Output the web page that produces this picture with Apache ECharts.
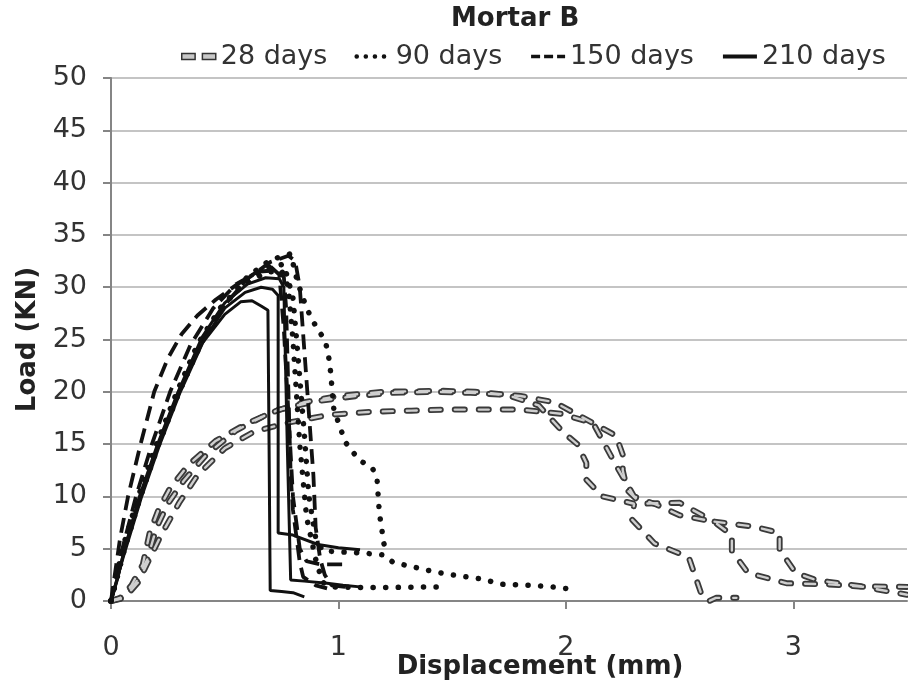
<!DOCTYPE html>
<html>
<head>
<meta charset="utf-8">
<script src="https://cdn.jsdelivr.net/npm/echarts@6/dist/echarts.min.js"></script>
<style>
html,body{margin:0;padding:0;background:#fff;}
#chart{width:908px;height:687px;}
</style>
</head>
<body>
<div id="chart"></div>
<script>
// ---- Data (Displacement mm, Load kN) ----
const titleText = 'Mortar B';
const legendNames = ['28 days', '90 days', '150 days', '210 days'];
const xTicks = [0, 1, 2, 3];
const yTicks = [0, 5, 10, 15, 20, 25, 30, 35, 40, 45, 50];

const d28a = [[0,0],[0.04,0.3],[0.09,1.5],[0.14,3.5],[0.17,6.5],[0.21,8.8],[0.26,10.8],[0.34,13],[0.46,15.3],[0.6,17.0],[0.74,18.3],[0.9,19.1],[1.08,19.6],[1.24,19.9],[1.42,20.0],[1.58,19.9],[1.74,19.7],[1.88,18.7],[1.99,16.1],[2.05,15],[2.09,13.2],[2.09,11.6],[2.16,10.0],[2.3,9.3],[2.29,7.8],[2.39,5.5],[2.54,4.2],[2.6,0.4],[2.63,0],[2.66,0.3],[2.75,0.3]];
const d28b = [[0,0],[0.05,0.3],[0.11,1.8],[0.16,4],[0.2,7],[0.25,9.3],[0.32,11.5],[0.42,14],[0.55,16.3],[0.7,18],[0.85,19],[1.0,19.6],[1.2,20],[1.45,20.1],[1.6,20.0],[1.8,19.6],[1.95,19.0],[2.12,17.0],[2.22,15.8],[2.25,14.0],[2.25,12.5],[2.27,10.6],[2.33,9.3],[2.5,9.4],[2.55,8.8],[2.65,7.6],[2.83,7.1],[2.94,6.5],[2.94,4.9],[3.01,2.7],[3.1,2.0],[3.3,1.4],[3.5,1.35]];
const d28c = [[0,0],[0.06,0.3],[0.12,1.8],[0.18,4.5],[0.22,6.3],[0.3,9.4],[0.38,12.0],[0.5,14.6],[0.63,16.2],[0.79,17.1],[0.96,17.8],[1.15,18.1],[1.32,18.2],[1.48,18.3],[1.64,18.3],[1.8,18.3],[1.98,17.9],[2.12,17.0],[2.17,15.0],[2.22,13],[2.3,10],[2.4,9.2],[2.5,8.2],[2.65,7.6],[2.73,6.3],[2.73,4.8],[2.8,2.7],[2.97,1.7],[3.15,1.6],[3.31,1.35],[3.5,0.6]];

const d90a = [[0,0],[0.06,5],[0.13,10],[0.21,15],[0.3,20],[0.4,24.8],[0.5,28.4],[0.6,31],[0.7,32.6],[0.79,33.2],[0.82,30.5],[0.86,28],[0.885,26.9],[0.91,25.9],[0.94,25],[0.955,23.7],[0.965,22],[0.98,18.3],[1.03,15.2],[1.09,13.5],[1.15,12.7],[1.17,11.6],[1.18,8.4],[1.2,5.5],[1.21,4.5]];
const d90b = [[0,0],[0.05,5],[0.12,10],[0.2,15],[0.29,20],[0.38,24.5],[0.48,28],[0.58,30.2],[0.68,31.4],[0.75,31.6],[0.78,30],[0.8,25],[0.83,15],[0.86,8],[0.9,4],[0.93,1.8],[0.97,1.35],[1.1,1.3],[1.25,1.3],[1.45,1.35]];
const d90c = [[0,0],[0.055,5],[0.125,10],[0.205,15],[0.295,20],[0.39,24.6],[0.49,28.2],[0.59,30.6],[0.69,31.9],[0.76,32.2],[0.8,29],[0.82,24],[0.85,16],[0.87,10],[0.9,6],[0.93,4.8],[1.0,4.7],[1.1,4.6],[1.2,4.4],[1.24,3.7],[1.3,3.4],[1.42,2.8],[1.5,2.5],[1.63,2.1],[1.72,1.6],[1.85,1.5],[1.96,1.3],[2.02,1.15]];

const d150a = [[0,0],[0.02,3],[0.04,6],[0.075,10],[0.13,15],[0.19,20],[0.25,23.2],[0.31,25.5],[0.38,27.3],[0.46,28.8],[0.55,30.2],[0.63,31.3],[0.7,32],[0.74,31.2],[0.76,26],[0.78,18],[0.8,10],[0.83,5],[0.86,3.8],[0.92,3.5],[1.04,3.5]];
const d150b = [[0,0],[0.06,5],[0.13,10],[0.21,15],[0.3,20],[0.4,24.8],[0.5,28.3],[0.6,30.8],[0.7,32.4],[0.78,33],[0.81,32.5],[0.83,30],[0.85,24],[0.87,18],[0.89,12],[0.9,7],[0.92,4],[0.94,2.5],[0.97,1.5],[1.05,1.3]];
const d150c = [[0,0],[0.05,5],[0.11,10],[0.18,15],[0.26,20],[0.35,24.5],[0.45,28],[0.55,30.3],[0.65,31.5],[0.72,31.6],[0.76,31],[0.77,28],[0.78,20],[0.79,12],[0.8,8.7],[0.83,3.7],[0.845,2.3],[0.9,1.5],[0.95,1.2]];

const d210a = [[0,0],[0.03,2.2],[0.06,5],[0.13,10],[0.21,15],[0.3,20],[0.4,24.6],[0.5,27.4],[0.57,28.6],[0.62,28.7],[0.66,28.2],[0.69,27.8],[0.695,15],[0.7,1.0],[0.75,0.9],[0.8,0.8],[0.85,0.4]];
const d210b = [[0,0],[0.03,2.4],[0.065,5],[0.135,10],[0.215,15],[0.305,20],[0.41,25],[0.5,28],[0.59,29.5],[0.66,30],[0.71,29.8],[0.735,29.2],[0.735,6.5],[0.8,6.3],[0.91,5.4],[1.0,5.1],[1.095,4.9]];
const d210c = [[0,0],[0.03,2.3],[0.06,5],[0.125,10],[0.205,15],[0.295,20],[0.4,25.2],[0.5,28.5],[0.6,30.3],[0.68,30.9],[0.74,30.8],[0.76,30],[0.775,15],[0.79,2.0],[0.85,1.9],[0.95,1.7],[1.02,1.5],[1.095,1.35]];

// ---- Styles ----
const FONT = 'DejaVu Sans';
const outer28 = {color:'#3a3a3a', width:6, type:[10,14], cap:'round'};
const inner28 = {color:'#cfcfcf', width:2.4, type:[10,14], cap:'round'};
const style90 = {color:'#111', width:5.5, type:[0.1,12.5], cap:'round'};
const style150 = {color:'#111', width:3.8, type:[15,8], cap:'butt'};
const style210 = {color:'#111', width:3, type:'solid'};

function mk(name, data, ls, z) {
  return {
    name: name, type: 'line', data: data, showSymbol: false, symbol: 'none',
    lineStyle: ls, itemStyle: {color: ls.color}, z: z, animation: false,
    emphasis: {disabled: true}, silent: true
  };
}

const series = [];
[d28a, d28b, d28c].forEach(d => { series.push(mk('28 days', d, outer28, 2)); });
[d28a, d28b, d28c].forEach(d => { series.push(mk('28 days', d, inner28, 3)); });
[d90a, d90b, d90c].forEach(d => series.push(mk('90 days', d, style90, 4)));
[d150a, d150b, d150c].forEach(d => series.push(mk('150 days', d, style150, 5)));
[d210a, d210b, d210c].forEach(d => series.push(mk('210 days', d, style210, 6)));

const chart = echarts.init(document.getElementById('chart'), null, {renderer: 'canvas'});
chart.setOption({
  animation: false,
  backgroundColor: '#fff',
  title: {
    text: titleText, left: 446, top: 1,
    textStyle: {fontFamily: FONT, fontSize: 26, fontWeight: 'bold', color: '#222'}
  },
  legend: {
    top: 38, left: 176, itemWidth: 34, itemHeight: 14, itemGap: 27,
    textStyle: {fontFamily: FONT, fontSize: 27, color: '#333'},
    itemStyle: {opacity: 0},
    selectedMode: false,
    data: [
      {name: legendNames[0], icon: 'path://M0,0h11v5h-11z M17,0h11v5h-11z', itemStyle: {color: '#c8c8c8', borderColor: '#333', borderWidth: 1.5, opacity: 1}},
      {name: legendNames[1], lineStyle: {width: 4.5, type: [0.1, 9], cap: 'round', color: '#111'}},
      {name: legendNames[2], lineStyle: {width: 3.5, type: [9, 4], color: '#111'}},
      {name: legendNames[3], lineStyle: {width: 4, type: 'solid', color: '#111'}}
    ]
  },
  grid: {left: 111, right: 1, top: 78, bottom: 86, containLabel: false, outerBoundsMode: 'none'},
  xAxis: {
    type: 'value', min: 0, max: 3.5, interval: 1,
    name: 'Displacement (mm)', nameLocation: 'middle', nameGap: 53, nameMoveOverlap: false,
    nameTextStyle: {fontFamily: FONT, fontSize: 26, fontWeight: 'bold', color: '#222', padding: [0, 0, 0, 62]},
    axisLine: {show: true, lineStyle: {color: '#858585', width: 2}},
    axisTick: {show: true, length: 8, lineStyle: {color: '#858585', width: 2}, customValues: xTicks},
    axisLabel: {fontFamily: FONT, fontSize: 27, color: '#333', margin: 33, customValues: xTicks},
    splitLine: {show: false}
  },
  yAxis: {
    type: 'value', min: 0, max: 50, interval: 5,
    name: 'Load (KN)', nameLocation: 'middle', nameGap: 70, nameRotate: 90, nameMoveOverlap: false,
    nameTextStyle: {fontFamily: FONT, fontSize: 26, fontWeight: 'bold', color: '#222'},
    axisLine: {show: true, lineStyle: {color: '#858585', width: 2}},
    axisTick: {show: true, length: 8, lineStyle: {color: '#858585', width: 2}},
    axisLabel: {fontFamily: FONT, fontSize: 27, color: '#333', margin: 24,
      formatter: v => (yTicks.indexOf(v) >= 0 ? String(v) : '')},
    splitLine: {show: true, lineStyle: {color: '#c4c4c4', width: 2}}
  },
  series: series
});
</script>
</body>
</html>
